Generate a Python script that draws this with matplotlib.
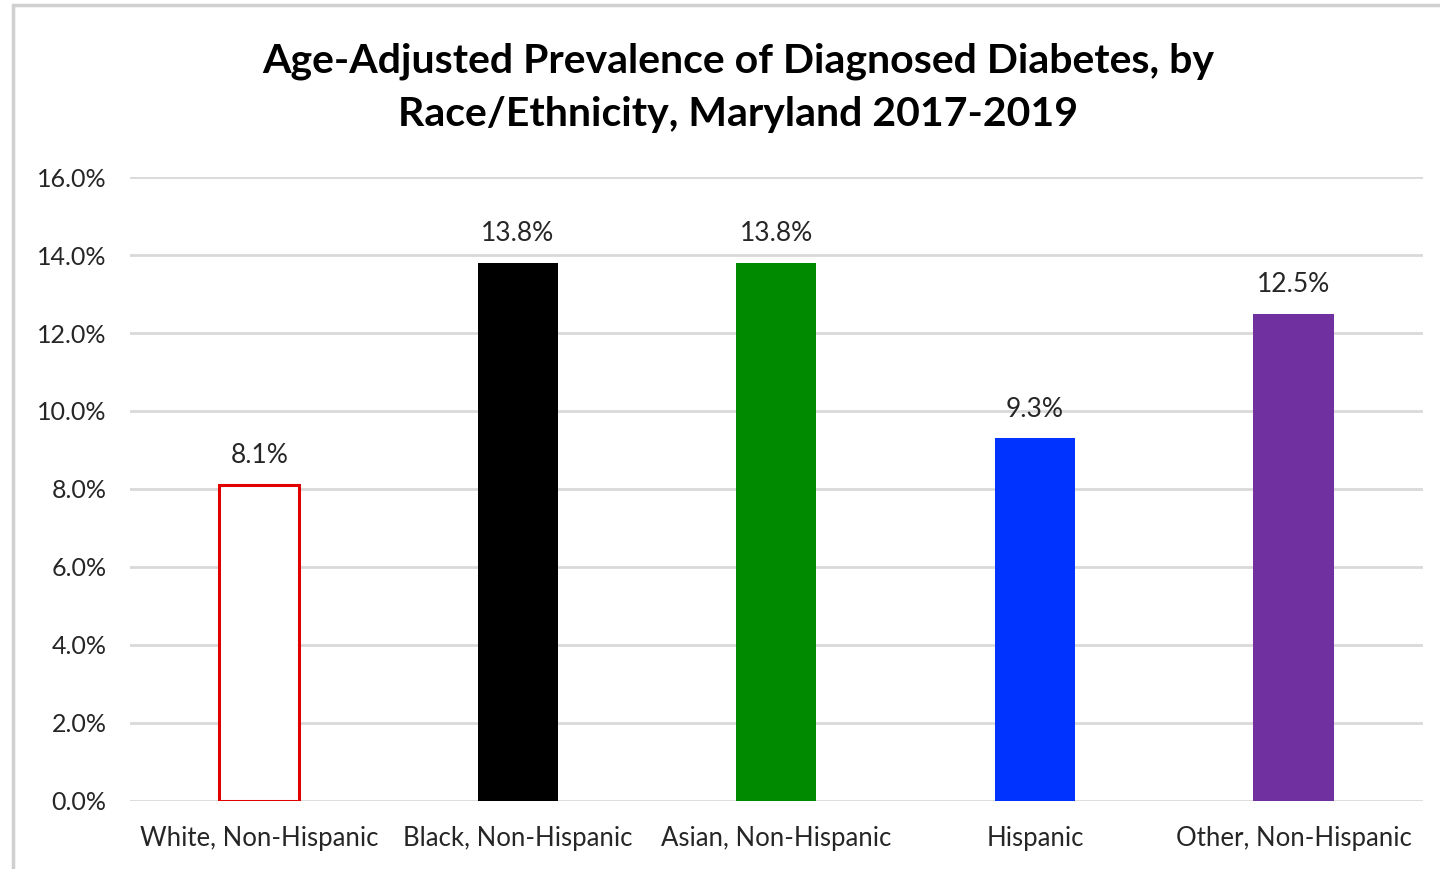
import matplotlib.pyplot as plt
from matplotlib.patches import Rectangle
from matplotlib.ticker import FuncFormatter, MultipleLocator

categories = ["White, Non-Hispanic", "Black, Non-Hispanic", "Asian, Non-Hispanic",
              "Hispanic", "Other, Non-Hispanic"]
prevalence = [8.1, 13.8, 13.8, 9.3, 12.5]
face_colors = ["white", "#000000", "#008a00", "#0033ff", "#7030a0"]
edge_colors = ["#e00000", "#000000", "#008a00", "#0033ff", "#7030a0"]
title_lines = ["Age-Adjusted Prevalence of Diagnosed Diabetes, by",
               "Race/Ethnicity, Maryland 2017-2019"]

plt.rcParams['font.family'] = ['Lato', 'DejaVu Sans']

fig = plt.figure(figsize=(14.4, 8.69), dpi=100)
ax = fig.add_axes([0.0903, 0.0783, 0.8977, 0.718])

# chart frame, open on the right and bottom edges
fig.patches.append(Rectangle((0.009, -0.02), 1.1, 1.014, transform=fig.transFigure,
                             fill=False, edgecolor="#d0d0d0", linewidth=2.5, zorder=0))

x = range(len(categories))
bars = ax.bar(x, prevalence, width=0.31, color=face_colors, edgecolor=edge_colors,
              linewidth=[2.2, 0, 0, 0, 0], zorder=3)

for xi, v in zip(x, prevalence):
    ax.annotate("%.1f%%" % v, (xi, v), xytext=(0, 12), textcoords="offset points",
                ha="center", va="bottom", fontsize=19, color="#262626")

ax.set_xlim(-0.5, len(categories) - 0.5)
ax.set_ylim(0, 16)
ax.yaxis.set_major_locator(MultipleLocator(2))
ax.yaxis.set_major_formatter(FuncFormatter(lambda v, p: "%.1f%%" % v))
ax.set_xticks(list(x))
ax.set_xticklabels(categories)
ax.tick_params(axis="both", length=0, labelcolor="#262626")
ax.tick_params(axis="y", pad=17, labelsize=18)
ax.tick_params(axis="x", pad=18, labelsize=18.5)
ax.grid(axis="y", color="#d9d9d9", linewidth=2, zorder=0)
for s in ax.spines.values():
    s.set_visible(False)

for yb, line in zip([1 - 73 / 869, 1 - 126 / 869], title_lines):
    fig.text(0.5125, yb, line, ha="center", va="baseline",
             fontsize=29.5, fontweight="bold")

fig.savefig("out.png", dpi=100)
